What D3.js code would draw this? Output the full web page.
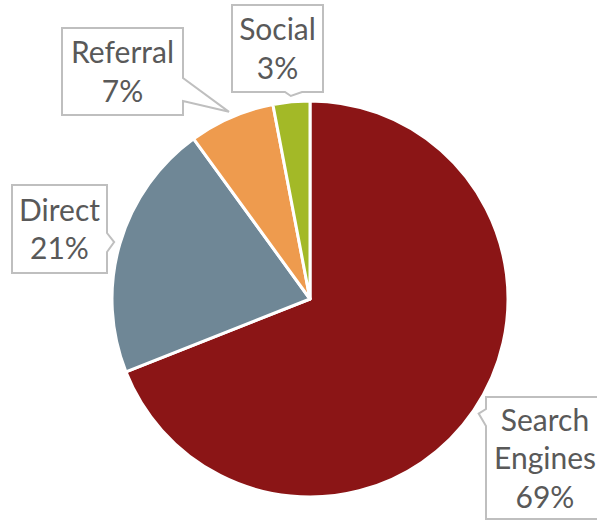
<!DOCTYPE html>
<html>
<head>
<meta charset="utf-8">
<script src="https://cdn.jsdelivr.net/npm/d3@7"></script>
<style>
  html, body { margin: 0; padding: 0; background: #fff; }
  svg { display: block; }
</style>
</head>
<body>
<div id="chart"></div>
<script>
// traffic sources pie — callout labels like the Excel original

const sources = ["Search Engines", "Direct", "Referral", "Social"];
const shares = [69, 21, 7, 3];
const sliceColors = ["#8B1516", "#6F8796", "#EE9B4E", "#A3B927"];

// label boxes: x, y, w, h + which side the wedge sits on and its base span
const callouts = [
  { x: 486, y: 397, w: 118, h: 122, side: "left",   a: 409, b: 426, lines: ["Search", "Engines", "69%"] },
  { x: 12,  y: 185, w: 95,  h: 88,  side: "right",  a: 233, b: 252, lines: ["Direct", "21%"] },
  { x: 62,  y: 28,  w: 121, h: 87,  side: "right",  a: 78,  b: 101, lines: ["Referral", "7%"] },
  { x: 232, y: 5,   w: 91,  h: 87,  side: "bottom", a: 285, b: 302, lines: ["Social", "3%"] }
];

const W = 597, H = 523;
const cx = 310, cy = 299, R = 198;

const svg = d3.select("#chart").append("svg").attr("width", W).attr("height", H);
const g = svg.append("g").attr("transform", `translate(${cx},${cy})`);

const pie = d3.pie().sort(null).value(d => d);
const arcs = pie(shares);
const arc = d3.arc().innerRadius(0).outerRadius(R);

g.selectAll("path.slice")
  .data(arcs)
  .join("path")
  .attr("class", "slice")
  .attr("d", arc)
  .attr("fill", (d, i) => sliceColors[i])
  .attr("stroke", "#fff")
  .attr("stroke-width", 3)
  .attr("stroke-linejoin", "round");

// wedge tip sits just outside the rim at the slice mid-angle
const tipArc = d3.arc().innerRadius(R * 1.03).outerRadius(R * 1.03);

function calloutPath(c, tip) {
  const x0 = c.x, y0 = c.y, x1 = c.x + c.w, y1 = c.y + c.h;
  const t = `${tip[0]},${tip[1]}`;
  let pts;
  if (c.side === "left") {
    pts = [`${x0},${y0}`, `${x1},${y0}`, `${x1},${y1}`, `${x0},${y1}`, `${x0},${c.b}`, t, `${x0},${c.a}`];
  } else if (c.side === "right") {
    pts = [`${x0},${y0}`, `${x1},${y0}`, `${x1},${c.a}`, t, `${x1},${c.b}`, `${x1},${y1}`, `${x0},${y1}`];
  } else {
    pts = [`${x0},${y0}`, `${x1},${y0}`, `${x1},${y1}`, `${c.b},${y1}`, t, `${c.a},${y1}`, `${x0},${y1}`];
  }
  return "M" + pts.join("L") + "Z";
}

const labels = svg.append("g").attr("class", "labels");

callouts.forEach((c, i) => {
  const m = tipArc.centroid(arcs[i]);
  const tip = [cx + m[0], cy + m[1]];

  labels.append("path")
    .attr("d", calloutPath(c, tip))
    .attr("fill", "#fff")
    .attr("stroke", "#BFBFBF")
    .attr("stroke-width", 2)
    .attr("stroke-linejoin", "miter");

  const lh = 38.5;
  const mid = c.y + c.h / 2;
  const first = mid - (c.lines.length - 1) * lh / 2 + 11;
  const txt = labels.append("text")
    .attr("text-anchor", "middle")
    .attr("font-family", "Lato, 'Open Sans', sans-serif")
    .attr("font-size", 30)
    .attr("fill", "#595959");
  c.lines.forEach((s, k) => {
    txt.append("tspan")
      .attr("x", c.x + c.w / 2)
      .attr("y", first + k * lh)
      .text(s);
  });
});
</script>
</body>
</html>
